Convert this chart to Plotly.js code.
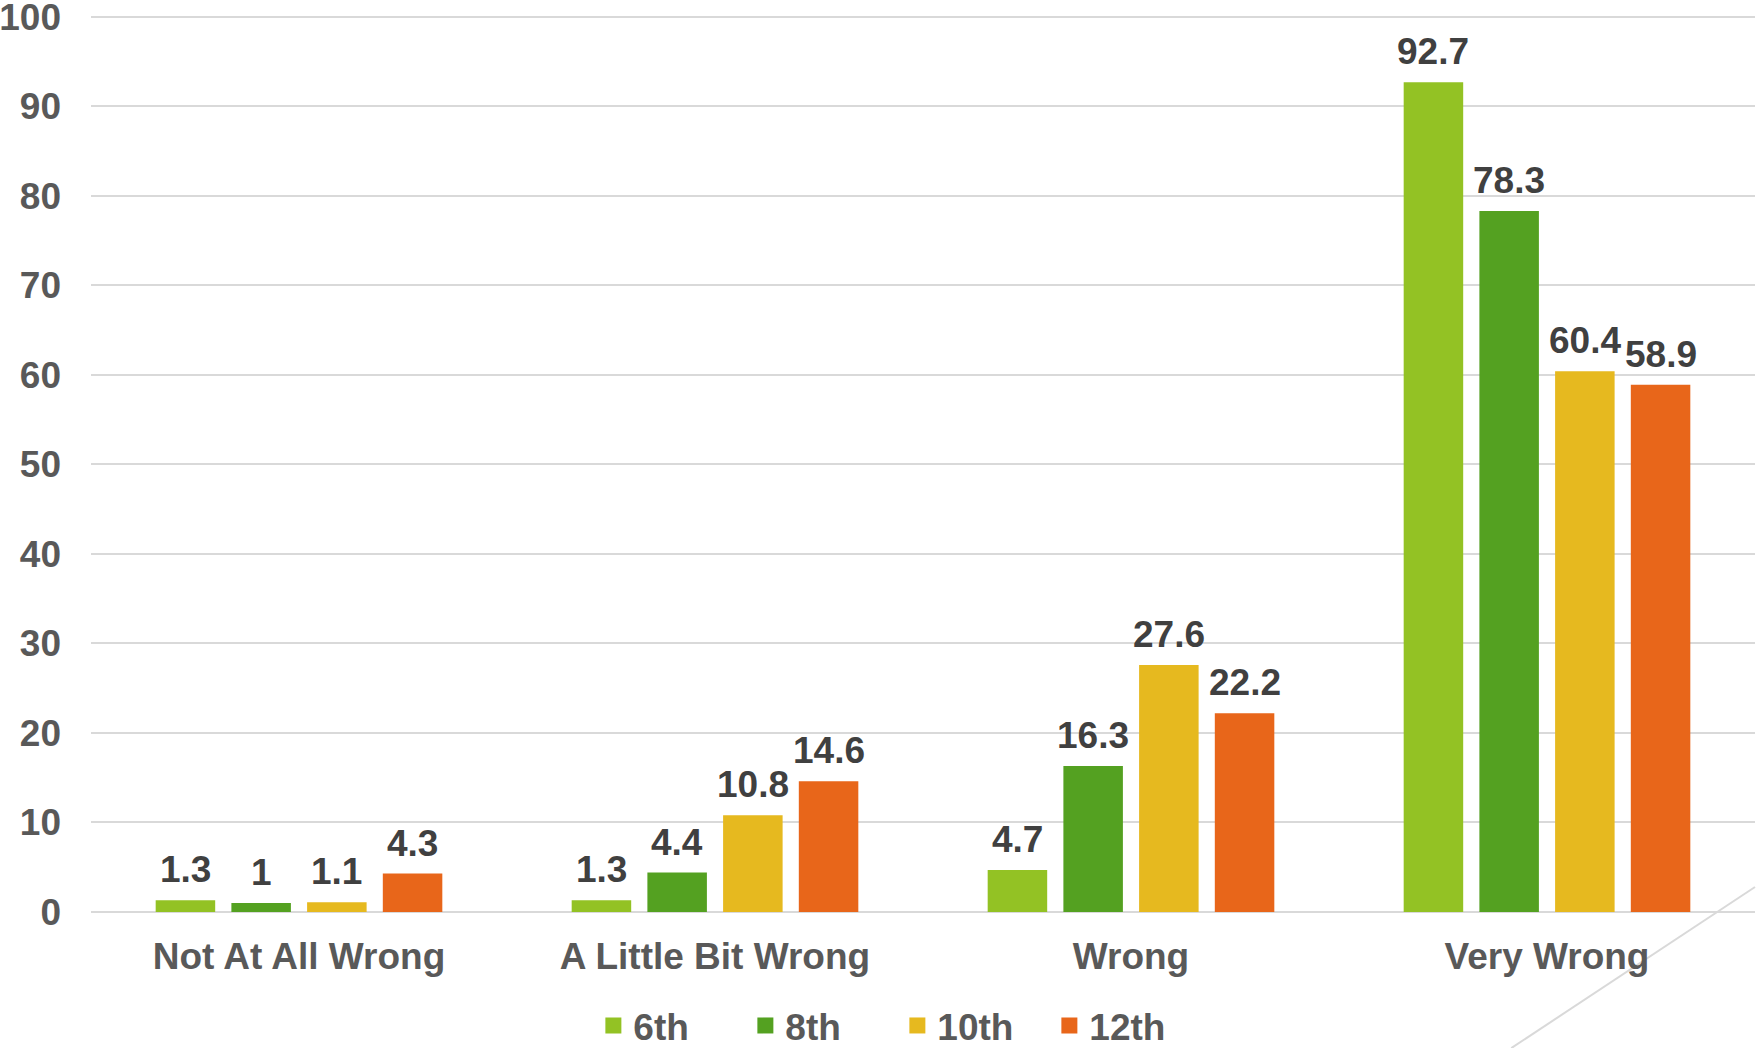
<!DOCTYPE html>
<html>
<head>
<meta charset="utf-8">
<script src="https://cdn.plot.ly/plotly-3.0.1.min.js"></script>
<style>html,body{margin:0;padding:0;background:#fff;}#chart{width:1757px;height:1048px;}</style>
</head>
<body>
<div id="chart"></div>
<script>
var categories = ["Not At All Wrong", "A Little Bit Wrong", "Wrong", "Very Wrong"];
var seriesNames = ["6th", "8th", "10th", "12th"];
var values6th = [1.3, 1.3, 4.7, 92.7];
var values8th = [1, 4.4, 16.3, 78.3];
var values10th = [1.1, 10.8, 27.6, 60.4];
var values12th = [4.3, 14.6, 22.2, 58.9];
var yTicks = [0, 10, 20, 30, 40, 50, 60, 70, 80, 90, 100];

var colors = ["#93c224", "#54a121", "#e6b91f", "#e8661a"];
var allValues = [values6th, values8th, values10th, values12th];
var FONT = "Liberation Sans, Arial, sans-serif";

var traces = [];
var annotations = [];
var slot = 75.7;
allValues.forEach(function (vals, i) {
  traces.push({
    type: "bar", name: seriesNames[i], x: categories, y: vals,
    marker: {color: colors[i]}, showlegend: false, hoverinfo: "x+y+name"
  });
  traces.push({
    type: "scatter", mode: "markers", name: seriesNames[i], x: [null], y: [null],
    marker: {color: colors[i], symbol: "square", size: 16}, showlegend: true, hoverinfo: "skip"
  });
  vals.forEach(function (v, j) {
    annotations.push({
      x: categories[j], y: v, xref: "x", yref: "y", text: String(v),
      showarrow: false, yanchor: "bottom", xanchor: "center",
      xshift: (i - 1.5) * slot, yshift: 8,
      font: {family: FONT, size: 37, color: "#404040", weight: 700}
    });
  });
});

var layout = {
  width: 1757, height: 1048,
  margin: {l: 91, r: 2, t: 15, b: 136, autoexpand: false},
  paper_bgcolor: "#ffffff", plot_bgcolor: "#ffffff",
  barmode: "group", bargap: 0.272, bargroupgap: 0.214,
  font: {family: FONT, size: 37, color: "#595959", weight: 700},
  xaxis: {
    type: "category", showgrid: false, zeroline: false, showline: false,
    ticks: "", ticklabelstandoff: 19,
    tickfont: {family: FONT, size: 37, color: "#595959", weight: 700}
  },
  yaxis: {
    range: [0, 100.2], tickvals: yTicks, showgrid: true, gridcolor: "#d9d9d9", gridwidth: 2,
    zeroline: true, zerolinecolor: "#d9d9d9", zerolinewidth: 2, showline: false,
    ticks: "", ticklabelstandoff: 29, ticklabeloverflow: "allow",
    tickfont: {family: FONT, size: 37, color: "#595959", weight: 700}
  },
  legend: {
    orientation: "h", x: 0.4846, xanchor: "center", y: -0.127, yanchor: "middle",
    entrywidth: 107, entrywidthmode: "pixels",
    font: {family: FONT, size: 37, color: "#595959", weight: 700},
    bgcolor: "rgba(0,0,0,0)"
  },
  annotations: annotations,
  shapes: [{
    type: "line", xref: "paper", yref: "paper", layer: "below",
    x0: 1.0, y0: 0.0279, x1: 0.8535, y1: -0.1518,
    line: {color: "#d9d9d9", width: 2}
  }]
};

Plotly.newPlot("chart", traces, layout, {displayModeBar: false, staticPlot: true});
</script>
</body>
</html>
